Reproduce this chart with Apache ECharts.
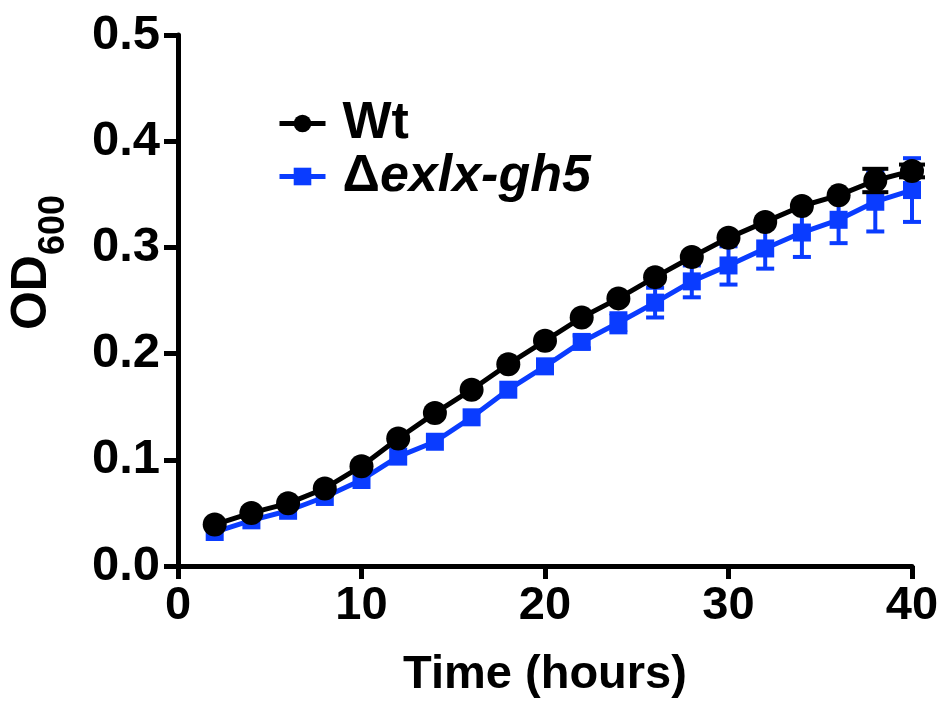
<!DOCTYPE html>
<html>
<head>
<meta charset="utf-8">
<script src="https://cdn.jsdelivr.net/npm/echarts@6/dist/echarts.min.js"></script>
<style>html,body{margin:0;padding:0;background:#fff;}#c{width:940px;height:707px;}</style>
</head>
<body>
<div id="c"></div>
<script>
const hours = [2,4,6,8,10,12,14,16,18,20,22,24,26,28,30,32,34,36,38,40];
const wtMean = [0.039,0.050,0.059,0.073,0.094,0.120,0.144,0.166,0.190,0.212,0.234,0.252,0.272,0.291,0.309,0.324,0.339,0.349,0.363,0.372];
const wtErr  = [0,0,0,0,0,0,0,0,0,0,0,0,0,0,0,0,0,0,0.011,0.006];
const koMean = [0.032,0.043,0.052,0.065,0.081,0.103,0.117,0.140,0.166,0.188,0.211,0.229,0.248,0.268,0.283,0.299,0.314,0.326,0.343,0.354];
const koErr  = [0,0,0,0,0,0,0,0,0,0,0.006,0.009,0.014,0.015,0.018,0.019,0.023,0.022,0.028,0.030];
const yTicks = [0,0.1,0.2,0.3,0.4,0.5];
const xTicks = [0,10,20,30,40];

const BLUE = '#0a3cff';
const FONT = 'Liberation Sans, Arial, sans-serif';

function errData(mean, err) {
  return hours.map((h, i) => [h, mean[i] - err[i], mean[i] + err[i]]).filter((d, i) => err[i] > 0);
}
function errRender(color, capW) {
  return function (params, api) {
    const x = api.value(0);
    const lo = api.coord([x, api.value(1)]);
    const hi = api.coord([x, api.value(2)]);
    const st = { stroke: color, lineWidth: 4 };
    return {
      type: 'group',
      children: [
        { type: 'line', shape: { x1: lo[0], y1: lo[1], x2: hi[0], y2: hi[1] }, style: st },
        { type: 'line', shape: { x1: lo[0] - capW / 2, y1: lo[1], x2: lo[0] + capW / 2, y2: lo[1] }, style: st },
        { type: 'line', shape: { x1: hi[0] - capW / 2, y1: hi[1], x2: hi[0] + capW / 2, y2: hi[1] }, style: st }
      ]
    };
  };
}

const chart = echarts.init(document.getElementById('c'), null, { renderer: 'canvas' });
chart.setOption({
  animation: false,
  backgroundColor: '#fff',
  textStyle: { fontFamily: FONT },
  grid: { left: 178, right: 28, top: 35, bottom: 141, containLabel: false, outerBoundsMode: 'none' },
  legend: {
    orient: 'vertical',
    left: 272,
    top: 92,
    itemGap: 0,
    itemWidth: 46,
    itemHeight: 22,
    data: ['Wt', 'Δexlx-gh5'],
    lineStyle: { width: 5 },
    formatter: function (n) { return n === 'Wt' ? 'Wt' : 'Δ{i|exlx-gh5}'; },
    textStyle: {
      fontFamily: FONT, fontSize: 52, fontWeight: 'bold', color: '#000', lineHeight: 53,
      padding: [0, 0, 0, 12],
      rich: { i: { fontFamily: FONT, fontSize: 52, fontWeight: 'bold', fontStyle: 'italic', color: '#000', lineHeight: 53 } }
    }
  },
  xAxis: {
    type: 'value', min: 0, max: 40, interval: 10,
    splitLine: { show: false },
    axisLine: { lineStyle: { color: '#000', width: 5 } },
    axisTick: { length: 13, lineStyle: { color: '#000', width: 5 } },
    axisLabel: { fontFamily: FONT, fontSize: 47, fontWeight: 'bold', color: '#000', margin: 17,
      formatter: v => xTicks.includes(v) ? String(v) : '' },
    name: 'Time (hours)', nameLocation: 'middle', nameGap: 86,
    nameTextStyle: { fontFamily: FONT, fontSize: 47, fontWeight: 'bold', color: '#000' }
  },
  yAxis: {
    type: 'value', min: 0, max: 0.5, interval: 0.1,
    splitLine: { show: false },
    axisLine: { lineStyle: { color: '#000', width: 5 } },
    axisTick: { length: 14, lineStyle: { color: '#000', width: 5 } },
    axisLabel: { fontFamily: FONT, fontSize: 49, fontWeight: 'bold', color: '#000', margin: 18,
      formatter: v => { const t = yTicks.find(y => Math.abs(y - v) < 1e-9); return t === undefined ? '' : t.toFixed(1); } },
    name: '{o|OD}{s|600}', nameLocation: 'middle', nameGap: 106, nameRotate: 90,
    nameTextStyle: {
      fontFamily: FONT, fontSize: 46, fontWeight: 'bold', color: '#000',
      padding: [0, 0, 0, 76],
      rich: {
        o: { fontFamily: FONT, fontSize: 50, fontWeight: 'bold', color: '#000', lineHeight: 80 },
        s: { fontFamily: FONT, fontSize: 36, fontWeight: 'bold', color: '#000', lineHeight: 34, verticalAlign: 'bottom' }
      }
    }
  },
  series: [
    {
      name: 'Wt', type: 'line', data: hours.map((h, i) => [h, wtMean[i]]),
      symbol: 'circle', symbolSize: 24,
      lineStyle: { color: '#000', width: 5 }, itemStyle: { color: '#000' }, z: 4
    },
    {
      name: 'Δexlx-gh5', type: 'line', data: hours.map((h, i) => [h, koMean[i]]),
      symbol: 'rect', symbolSize: 18,
      lineStyle: { color: BLUE, width: 5 }, itemStyle: { color: BLUE }, z: 3
    },
    {
      type: 'custom', name: 'wtErr', data: errData(wtMean, wtErr),
      renderItem: errRender('#000', 26), z: 5, silent: true
    },
    {
      type: 'custom', name: 'koErr', data: errData(koMean, koErr),
      renderItem: errRender(BLUE, 18), z: 2, silent: true
    }
  ]
});
</script>
</body>
</html>
